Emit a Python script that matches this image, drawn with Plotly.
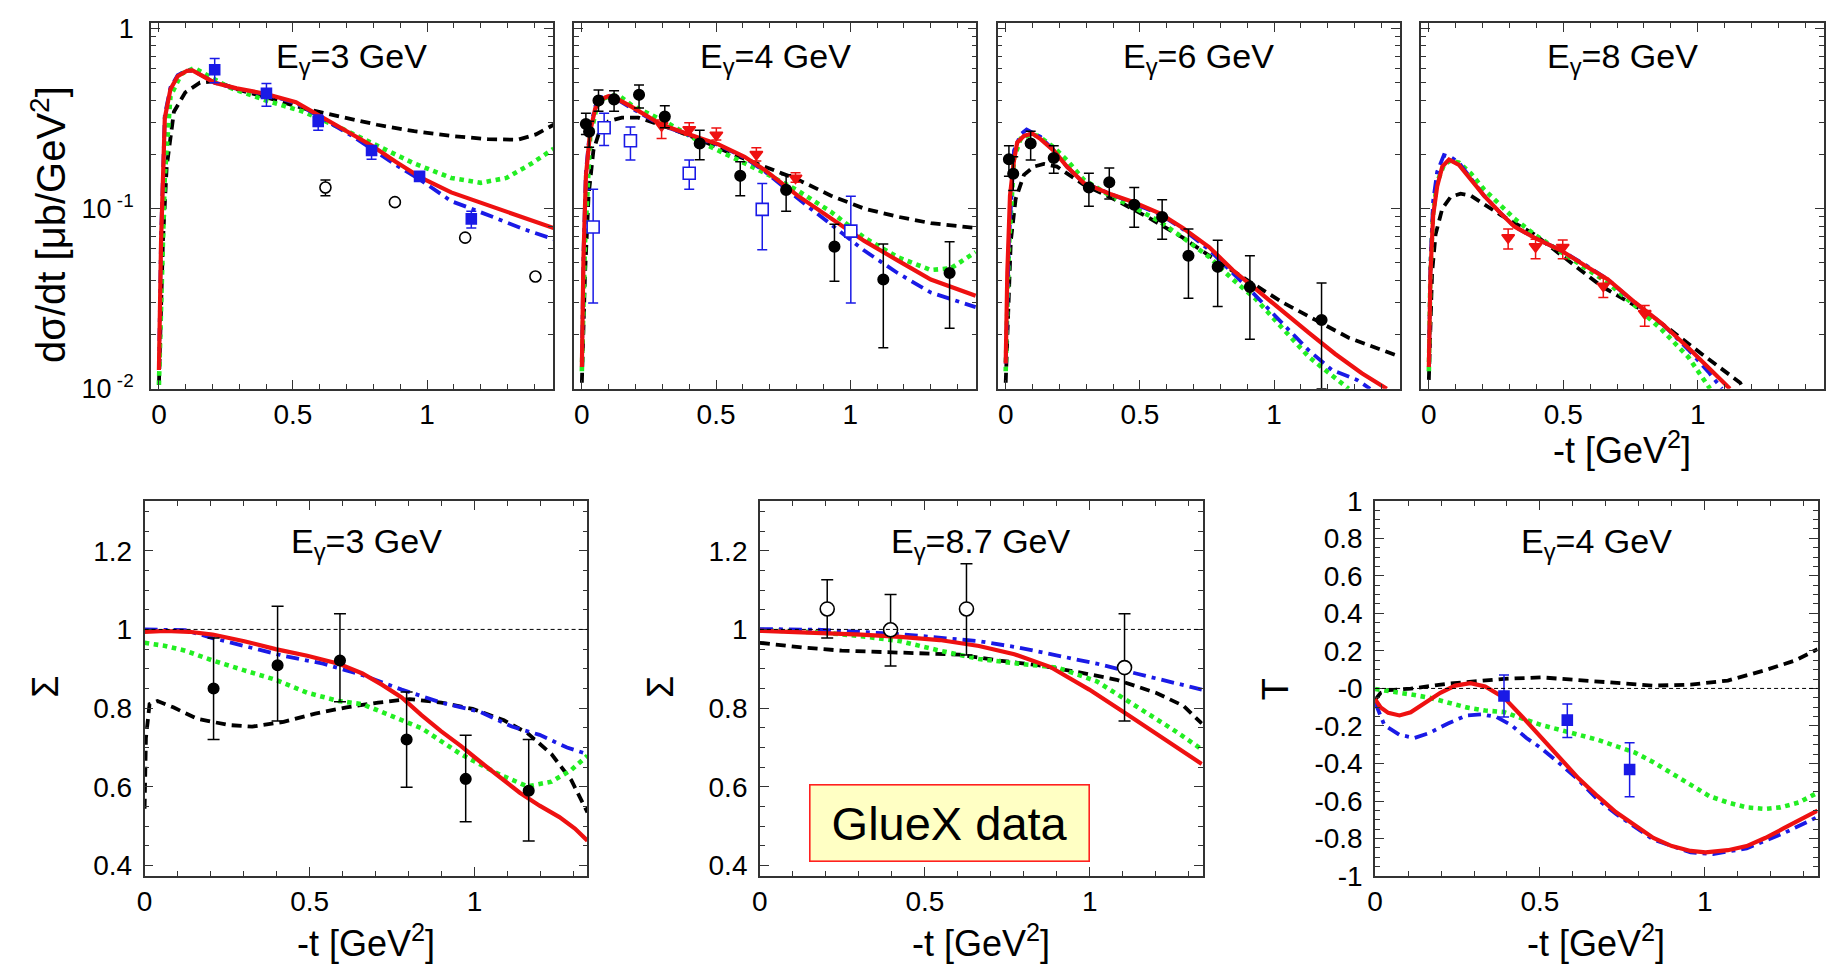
import plotly.graph_objects as go

W, H = 1828, 977
FONT = "Liberation Sans, Arial, Helvetica, sans-serif"
AX = "#333333"
RED, BLUE, GREEN, BLACK = "#ee1111", "#1a1ae6", "#22ee22", "#000000"

# ---------------- top row: dsigma/dt (log scale) ----------------
# E=3 GeV
p1_red_x = [0.0, 0.008, 0.022, 0.043, 0.07, 0.105, 0.125, 0.153, 0.208, 0.29, 0.40, 0.511, 0.594, 0.704, 0.793, 0.883, 0.979, 1.09, 1.227, 1.365, 1.472]
p1_red_y = [0.0127, 0.066, 0.318, 0.46, 0.543, 0.582, 0.585, 0.555, 0.50, 0.465, 0.433, 0.39, 0.331, 0.269, 0.224, 0.182, 0.148, 0.123, 0.104, 0.089, 0.078]
p1_blue_x = [0.0, 0.008, 0.022, 0.043, 0.07, 0.105, 0.13, 0.16, 0.208, 0.29, 0.40, 0.511, 0.594, 0.704, 0.793, 0.883, 0.979, 1.09, 1.165, 1.227, 1.365, 1.472]
p1_blue_y = [0.0127, 0.07, 0.33, 0.47, 0.55, 0.585, 0.58, 0.55, 0.50, 0.463, 0.43, 0.385, 0.325, 0.262, 0.215, 0.175, 0.143, 0.11, 0.1, 0.092, 0.0765, 0.0676]
p1_green_x = [0.0, 0.022, 0.043, 0.084, 0.132, 0.18, 0.263, 0.40, 0.539, 0.676, 0.814, 0.952, 1.09, 1.2, 1.296, 1.39, 1.472]
p1_green_y = [0.0105, 0.151, 0.42, 0.56, 0.603, 0.55, 0.47, 0.398, 0.345, 0.281, 0.223, 0.178, 0.148, 0.139, 0.148, 0.178, 0.215]
p1_black_x = [0.0, 0.015, 0.029, 0.056, 0.098, 0.153, 0.208, 0.29, 0.40, 0.539, 0.676, 0.814, 0.952, 1.09, 1.227, 1.337, 1.406, 1.472]
p1_black_y = [0.0105, 0.066, 0.171, 0.345, 0.441, 0.50, 0.51, 0.46, 0.415, 0.36, 0.324, 0.292, 0.269, 0.253, 0.243, 0.241, 0.258, 0.292]
p1_sq_x = [0.208, 0.401, 0.594, 0.793, 0.972, 1.165]
p1_sq_y = [0.59, 0.436, 0.305, 0.21, 0.151, 0.0877]
p1_sq_hi = [0.68, 0.494, 0.331, 0.223, 0.156, 0.0968]
p1_sq_lo = [0.50, 0.37, 0.272, 0.188, 0.146, 0.078]
p1_oc_x = [0.621, 0.880, 1.142, 1.404]
p1_oc_y = [0.131, 0.1086, 0.069, 0.042]
p1_oc_hi = [0.144, 0.1086, 0.069, 0.042]
p1_oc_lo = [0.118, 0.1086, 0.069, 0.042]

# E=4 GeV
p2_red_x = [0.0, 0.006, 0.015, 0.031, 0.05, 0.074, 0.099, 0.124, 0.186, 0.297, 0.433, 0.507, 0.606, 0.681, 0.804, 0.928, 1.052, 1.176, 1.30, 1.467]
p2_red_y = [0.0132, 0.0538, 0.151, 0.269, 0.36, 0.406, 0.421, 0.412, 0.367, 0.292, 0.248, 0.228, 0.194, 0.164, 0.118, 0.0883, 0.0662, 0.0516, 0.0404, 0.0328]
p2_blue_x = [0.0, 0.006, 0.015, 0.031, 0.05, 0.074, 0.099, 0.124, 0.186, 0.297, 0.433, 0.507, 0.606, 0.681, 0.804, 0.928, 1.052, 1.176, 1.30, 1.467]
p2_blue_y = [0.0132, 0.056, 0.16, 0.28, 0.37, 0.415, 0.425, 0.41, 0.36, 0.29, 0.245, 0.226, 0.192, 0.161, 0.114, 0.0813, 0.0585, 0.0439, 0.0342, 0.0284]
p2_green_x = [0.0, 0.012, 0.031, 0.056, 0.080, 0.111, 0.142, 0.186, 0.309, 0.433, 0.557, 0.681, 0.804, 0.928, 1.052, 1.176, 1.30, 1.374, 1.467]
p2_green_y = [0.0125, 0.066, 0.248, 0.37, 0.408, 0.424, 0.42, 0.374, 0.305, 0.238, 0.194, 0.158, 0.126, 0.096, 0.069, 0.0538, 0.0456, 0.0466, 0.0573]
p2_black_x = [0.0, 0.012, 0.025, 0.043, 0.062, 0.099, 0.149, 0.21, 0.309, 0.433, 0.557, 0.681, 0.804, 0.928, 1.052, 1.176, 1.30, 1.467]
p2_black_y = [0.0108, 0.0439, 0.118, 0.210, 0.258, 0.305, 0.320, 0.320, 0.286, 0.243, 0.202, 0.171, 0.145, 0.118, 0.100, 0.0902, 0.083, 0.078]
p2_ci_x = [0.015, 0.027, 0.062, 0.12, 0.213, 0.309, 0.439, 0.590, 0.761, 0.941, 1.123, 1.370]
p2_ci_y = [0.295, 0.267, 0.398, 0.404, 0.428, 0.324, 0.230, 0.152, 0.127, 0.0615, 0.0404, 0.0439]
p2_ci_hi = [0.338, 0.305, 0.456, 0.451, 0.485, 0.372, 0.272, 0.182, 0.154, 0.082, 0.0636, 0.0654]
p2_ci_lo = [0.258, 0.219, 0.347, 0.347, 0.362, 0.281, 0.187, 0.118, 0.0968, 0.0395, 0.0169, 0.0217]
p2_os_x = [0.042, 0.083, 0.181, 0.400, 0.672, 1.002]
p2_os_y = [0.079, 0.281, 0.238, 0.157, 0.099, 0.075]
p2_os_hi = [0.128, 0.338, 0.284, 0.186, 0.138, 0.117]
p2_os_lo = [0.0299, 0.224, 0.186, 0.128, 0.0591, 0.0299]
p2_tr_x = [0.297, 0.400, 0.501, 0.650, 0.796]
p2_tr_y = [0.289, 0.275, 0.256, 0.200, 0.148]
p2_tr_hi = [0.31, 0.30, 0.28, 0.218, 0.158]
p2_tr_lo = [0.245, 0.255, 0.24, 0.184, 0.14]

# E=6 GeV
p3_red_x = [0.0, 0.006, 0.016, 0.031, 0.043, 0.068, 0.099, 0.130, 0.179, 0.228, 0.29, 0.389, 0.475, 0.574, 0.660, 0.759, 0.846, 0.932, 1.031, 1.13, 1.228, 1.327, 1.42]
p3_red_y = [0.0138, 0.0439, 0.118, 0.186, 0.233, 0.253, 0.261, 0.243, 0.210, 0.171, 0.139, 0.1205, 0.1087, 0.094, 0.078, 0.061, 0.0456, 0.0356, 0.0267, 0.0204, 0.0156, 0.0122, 0.0100]
p3_blue_x = [0.0, 0.012, 0.031, 0.056, 0.078, 0.130, 0.179, 0.228, 0.29, 0.389, 0.475, 0.574, 0.660, 0.759, 0.846, 0.932, 1.031, 1.13, 1.216, 1.309, 1.358]
p3_blue_y = [0.0138, 0.066, 0.210, 0.258, 0.275, 0.25, 0.210, 0.171, 0.139, 0.12, 0.107, 0.093, 0.077, 0.059, 0.044, 0.0328, 0.0231, 0.0163, 0.0127, 0.0112, 0.0100]
p3_green_x = [0.0, 0.012, 0.031, 0.056, 0.093, 0.123, 0.179, 0.228, 0.29, 0.389, 0.475, 0.574, 0.660, 0.759, 0.846, 0.932, 1.031, 1.13, 1.278]
p3_green_y = [0.0125, 0.06, 0.19, 0.245, 0.258, 0.253, 0.219, 0.186, 0.145, 0.118, 0.102, 0.0848, 0.069, 0.0538, 0.0404, 0.0315, 0.0217, 0.015, 0.0100]
p3_black_x = [0.0, 0.019, 0.037, 0.068, 0.105, 0.142, 0.191, 0.29, 0.414, 0.537, 0.660, 0.784, 0.907, 1.031, 1.154, 1.278, 1.457]
p3_black_y = [0.0108, 0.066, 0.113, 0.154, 0.171, 0.177, 0.171, 0.136, 0.111, 0.0883, 0.069, 0.0516, 0.0395, 0.0302, 0.0241, 0.0192, 0.0153]
p3_ci_x = [0.012, 0.028, 0.093, 0.179, 0.310, 0.386, 0.479, 0.583, 0.681, 0.790, 0.910, 1.177]
p3_ci_y = [0.188, 0.156, 0.230, 0.191, 0.131, 0.140, 0.105, 0.0897, 0.0547, 0.0475, 0.0367, 0.0241]
p3_ci_hi = [0.223, 0.194, 0.269, 0.223, 0.157, 0.168, 0.131, 0.112, 0.0771, 0.0667, 0.0547, 0.0387]
p3_ci_lo = [0.151, 0.126, 0.186, 0.157, 0.103, 0.113, 0.0787, 0.0676, 0.0318, 0.0286, 0.0188, 0.0100]

# E=8 GeV
p4_red_x = [0.0, 0.006, 0.016, 0.031, 0.05, 0.075, 0.112, 0.156, 0.205, 0.268, 0.318, 0.392, 0.492, 0.579, 0.666, 0.766, 0.866, 0.965, 1.04, 1.12]
p4_red_y = [0.0132, 0.0439, 0.092, 0.133, 0.171, 0.187, 0.175, 0.145, 0.118, 0.094, 0.0796, 0.069, 0.0585, 0.0485, 0.0404, 0.0302, 0.0231, 0.0169, 0.0132, 0.0100]
p4_blue_x = [0.0, 0.006, 0.016, 0.031, 0.056, 0.081, 0.112, 0.156, 0.205, 0.268, 0.318, 0.392, 0.492, 0.579, 0.666, 0.766, 0.866, 0.965, 1.04, 1.09]
p4_blue_y = [0.0132, 0.05, 0.11, 0.16, 0.198, 0.193, 0.18, 0.148, 0.118, 0.094, 0.0796, 0.069, 0.0585, 0.049, 0.0404, 0.030, 0.0231, 0.0165, 0.0124, 0.0100]
p4_green_x = [0.0, 0.006, 0.016, 0.031, 0.056, 0.081, 0.112, 0.156, 0.205, 0.268, 0.318, 0.392, 0.492, 0.579, 0.666, 0.766, 0.866, 0.965, 1.046]
p4_green_y = [0.0125, 0.045, 0.095, 0.14, 0.175, 0.185, 0.18, 0.157, 0.128, 0.104, 0.088, 0.072, 0.0573, 0.0476, 0.0387, 0.029, 0.0213, 0.015, 0.0100]
p4_black_x = [0.0, 0.012, 0.025, 0.05, 0.081, 0.118, 0.156, 0.205, 0.268, 0.392, 0.517, 0.641, 0.766, 0.89, 1.015, 1.158, 1.17]
p4_black_y = [0.0112, 0.0439, 0.072, 0.1, 0.116, 0.121, 0.118, 0.106, 0.092, 0.072, 0.0516, 0.0372, 0.029, 0.0217, 0.0156, 0.0108, 0.0100]
p4_tr_x = [0.295, 0.397, 0.498, 0.649, 0.803]
p4_tr_y = [0.069, 0.0615, 0.061, 0.0372, 0.0262]
p4_tr_hi = [0.0771, 0.0676, 0.067, 0.0412, 0.029]
p4_tr_lo = [0.0597, 0.0527, 0.0527, 0.0321, 0.0222]

# ---------------- bottom row ----------------
# Sigma, E=3 GeV
b1_red_x = [0, 0.063, 0.135, 0.206, 0.302, 0.397, 0.493, 0.588, 0.66, 0.72, 0.779, 0.839, 0.899, 0.958, 1.018, 1.078, 1.137, 1.197, 1.257, 1.304, 1.342]
b1_red_y = [0.994, 0.996, 0.994, 0.987, 0.970, 0.950, 0.933, 0.913, 0.888, 0.859, 0.827, 0.782, 0.741, 0.704, 0.663, 0.622, 0.585, 0.552, 0.523, 0.494, 0.463]
b1_blue_x = [0, 0.123, 0.206, 0.302, 0.421, 0.541, 0.66, 0.779, 0.899, 1.018, 1.113, 1.197, 1.28, 1.342]
b1_blue_y = [1.0, 0.998, 0.978, 0.958, 0.933, 0.913, 0.884, 0.847, 0.814, 0.790, 0.753, 0.732, 0.70, 0.683]
b1_green_x = [0, 0.063, 0.123, 0.206, 0.302, 0.397, 0.493, 0.588, 0.66, 0.731, 0.839, 0.958, 1.078, 1.161, 1.233, 1.292, 1.342]
b1_green_y = [0.966, 0.958, 0.946, 0.921, 0.896, 0.872, 0.839, 0.818, 0.810, 0.786, 0.749, 0.683, 0.630, 0.601, 0.613, 0.642, 0.679]
b1_black_x = [0, 0.004, 0.015, 0.039, 0.087, 0.159, 0.254, 0.326, 0.421, 0.517, 0.612, 0.708, 0.803, 0.899, 0.994, 1.089, 1.161, 1.233, 1.293, 1.342]
b1_black_y = [0.544, 0.724, 0.810, 0.818, 0.802, 0.773, 0.757, 0.753, 0.765, 0.786, 0.802, 0.814, 0.823, 0.814, 0.798, 0.769, 0.736, 0.683, 0.617, 0.535]
b1_ci_x = [0.209, 0.403, 0.592, 0.794, 0.973, 1.164]
b1_ci_y = [0.850, 0.909, 0.921, 0.720, 0.620, 0.590]
b1_ci_hi = [0.978, 1.059, 1.04, 0.841, 0.731, 0.720]
b1_ci_lo = [0.72, 0.767, 0.816, 0.599, 0.511, 0.462]

# Sigma, E=8.7 GeV (GlueX)
b2_red_x = [0, 0.188, 0.307, 0.426, 0.545, 0.664, 0.771, 0.879, 0.998, 1.117, 1.236, 1.339]
b2_red_y = [0.9965, 0.991, 0.987, 0.981, 0.973, 0.958, 0.937, 0.905, 0.847, 0.782, 0.716, 0.658]
b2_blue_x = [0, 0.188, 0.426, 0.545, 0.664, 0.783, 0.902, 1.021, 1.140, 1.260, 1.339]
b2_blue_y = [1.001, 0.999, 0.988, 0.980, 0.970, 0.954, 0.933, 0.913, 0.888, 0.864, 0.847]
b2_green_x = [0, 0.188, 0.307, 0.426, 0.545, 0.664, 0.783, 0.902, 1.021, 1.140, 1.260, 1.339]
b2_green_y = [0.999, 0.992, 0.983, 0.970, 0.946, 0.925, 0.913, 0.903, 0.868, 0.806, 0.741, 0.695]
b2_black_x = [0, 0.129, 0.248, 0.367, 0.486, 0.605, 0.724, 0.843, 0.962, 1.081, 1.2, 1.283, 1.339]
b2_black_y = [0.966, 0.954, 0.946, 0.942, 0.940, 0.936, 0.921, 0.909, 0.892, 0.872, 0.839, 0.806, 0.761]
b2_oc_x = [0.204, 0.396, 0.626, 1.105]
b2_oc_y = [1.052, 0.999, 1.052, 0.903]
b2_oc_hi = [1.126, 1.089, 1.167, 1.04]
b2_oc_lo = [0.978, 0.907, 0.935, 0.767]

# T, E=4 GeV
b3_red_x = [0, 0.017, 0.040, 0.074, 0.108, 0.153, 0.198, 0.243, 0.289, 0.334, 0.391, 0.447, 0.504, 0.561, 0.617, 0.674, 0.730, 0.787, 0.844, 0.900, 0.957, 1.002, 1.070, 1.127, 1.183, 1.240, 1.342]
b3_red_y = [-0.058, -0.101, -0.130, -0.144, -0.127, -0.075, -0.023, 0.015, 0.028, 0.011, -0.049, -0.152, -0.264, -0.376, -0.479, -0.573, -0.659, -0.728, -0.797, -0.840, -0.866, -0.874, -0.862, -0.840, -0.797, -0.745, -0.651]
b3_blue_x = [0, 0.028, 0.074, 0.119, 0.164, 0.221, 0.277, 0.323, 0.368, 0.413, 0.459, 0.504, 0.561, 0.617, 0.674, 0.730, 0.844, 0.957, 1.025, 1.127, 1.240, 1.342]
b3_blue_y = [-0.075, -0.195, -0.247, -0.264, -0.238, -0.187, -0.144, -0.138, -0.152, -0.195, -0.264, -0.319, -0.402, -0.488, -0.591, -0.668, -0.806, -0.874, -0.883, -0.852, -0.771, -0.685]
b3_green_x = [0, 0.051, 0.108, 0.164, 0.221, 0.277, 0.334, 0.391, 0.447, 0.504, 0.561, 0.617, 0.674, 0.730, 0.787, 0.844, 0.900, 0.957, 1.014, 1.070, 1.127, 1.183, 1.229, 1.285, 1.342]
b3_green_y = [-0.003, -0.015, -0.032, -0.049, -0.075, -0.101, -0.118, -0.126, -0.161, -0.195, -0.221, -0.247, -0.273, -0.307, -0.341, -0.393, -0.453, -0.513, -0.574, -0.608, -0.634, -0.642, -0.634, -0.608, -0.556]
b3_black_x = [0, 0.017, 0.040, 0.108, 0.221, 0.277, 0.391, 0.504, 0.617, 0.730, 0.844, 0.957, 1.070, 1.183, 1.274, 1.342]
b3_black_y = [-0.061, -0.023, -0.009, -0.001, 0.025, 0.034, 0.051, 0.059, 0.046, 0.028, 0.015, 0.020, 0.042, 0.097, 0.149, 0.209]
b3_sq_x = [0.391, 0.583, 0.772]
b3_sq_y = [-0.040, -0.169, -0.432]
b3_sq_hi = [0.071, -0.083, -0.290]
b3_sq_lo = [-0.152, -0.261, -0.577]

# text
top_titles = ["E<sub>γ</sub>=3 GeV", "E<sub>γ</sub>=4 GeV", "E<sub>γ</sub>=6 GeV", "E<sub>γ</sub>=8 GeV"]
bot_titles = ["E<sub>γ</sub>=3 GeV", "E<sub>γ</sub>=8.7 GeV", "E<sub>γ</sub>=4 GeV"]
xtitle = "-t [GeV<sup>2</sup>]"
ytitle_top = "dσ/dt [μb/GeV<sup>2</sup>]"
log_tickvals = [0.01, 0.1, 1]
log_ticktext = ["10<sup> -2</sup>", "10<sup> -1</sup>", "1"]
t_tickvals = [-1, -0.8, -0.6, -0.4, -0.2, 0, 0.2, 0.4, 0.6, 0.8, 1]
t_ticktext = ["-1", "-0.8", "-0.6", "-0.4", "-0.2", "-0", "0.2", "0.4", "0.6", "0.8", "1"]

# ---------------- layout geometry (pixels) ----------------
top_x = [(143.5, 547.5), (568.3, 972.7), (994, 1398.3), (1419, 1824)]
top_y = (8.3, 386)
bot_x = [(137.2, 582), (755.2, 1200), (1373.1, 1817.5)]
bot_y = (501.7, 889.3)

def dx(a, b):
    return [a / W, b / W]

def dy(a, b):
    return [1 - b / H, 1 - a / H]

fig = go.Figure()

LINE_STYLES = {
    "black": dict(color=BLACK, width=3.8, dash="10px,6px"),
    "green": dict(color=GREEN, width=4.6, dash="dot"),
    "blue": dict(color=BLUE, width=3.8, dash="13px,6px,4px,6px"),
    "red": dict(color=RED, width=4.2),
}

def curve(x, y, style, n):
    fig.add_trace(go.Scatter(x=x, y=y, mode="lines", line=LINE_STYLES[style],
                             xaxis="x" + n, yaxis="y" + n, showlegend=False, hoverinfo="skip"))

def points(x, y, hi, lo, n, symbol, size, color, fill, ecolor, cap=5):
    fig.add_trace(go.Scatter(
        x=x, y=y, mode="markers", xaxis="x" + n, yaxis="y" + n, showlegend=False,
        marker=dict(symbol=symbol, size=size, color=fill, line=dict(color=color, width=1.6)),
        error_y=dict(type="data", symmetric=False,
                     array=[h - v for h, v in zip(hi, y)],
                     arrayminus=[v - l for l, v in zip(lo, y)],
                     color=ecolor, thickness=1.5, width=cap)))

for n, (bx, by), (gx, gy), (ux, uy), (rx, ry) in [
    ("1", (p1_black_x, p1_black_y), (p1_green_x, p1_green_y), (p1_blue_x, p1_blue_y), (p1_red_x, p1_red_y)),
    ("2", (p2_black_x, p2_black_y), (p2_green_x, p2_green_y), (p2_blue_x, p2_blue_y), (p2_red_x, p2_red_y)),
    ("3", (p3_black_x, p3_black_y), (p3_green_x, p3_green_y), (p3_blue_x, p3_blue_y), (p3_red_x, p3_red_y)),
    ("4", (p4_black_x, p4_black_y), (p4_green_x, p4_green_y), (p4_blue_x, p4_blue_y), (p4_red_x, p4_red_y)),
    ("5", (b1_black_x, b1_black_y), (b1_green_x, b1_green_y), (b1_blue_x, b1_blue_y), (b1_red_x, b1_red_y)),
    ("6", (b2_black_x, b2_black_y), (b2_green_x, b2_green_y), (b2_blue_x, b2_blue_y), (b2_red_x, b2_red_y)),
    ("7", (b3_black_x, b3_black_y), (b3_green_x, b3_green_y), (b3_blue_x, b3_blue_y), (b3_red_x, b3_red_y)),
]:
    curve(bx, by, "black", n)
    curve(gx, gy, "green", n)
    curve(ux, uy, "blue", n)
    curve(rx, ry, "red", n)

points(p1_oc_x, p1_oc_y, p1_oc_hi, p1_oc_lo, "1", "circle", 11, BLACK, "white", BLACK)
points(p1_sq_x, p1_sq_y, p1_sq_hi, p1_sq_lo, "1", "square", 10, BLUE, BLUE, BLUE)
points(p2_os_x, p2_os_y, p2_os_hi, p2_os_lo, "2", "square", 12, BLUE, "white", BLUE)
points(p2_tr_x, p2_tr_y, p2_tr_hi, p2_tr_lo, "2", "triangle-down", 11, RED, RED, RED)
points(p2_ci_x, p2_ci_y, p2_ci_hi, p2_ci_lo, "2", "circle", 10.5, BLACK, BLACK, BLACK)
points(p3_ci_x, p3_ci_y, p3_ci_hi, p3_ci_lo, "3", "circle", 10.5, BLACK, BLACK, BLACK)
points(p4_tr_x, p4_tr_y, p4_tr_hi, p4_tr_lo, "4", "triangle-down", 11, RED, RED, RED)
points(b1_ci_x, b1_ci_y, b1_ci_hi, b1_ci_lo, "5", "circle", 10.5, BLACK, BLACK, BLACK, cap=6)
points(b2_oc_x, b2_oc_y, b2_oc_hi, b2_oc_lo, "6", "circle", 14, BLACK, "white", BLACK, cap=6)
points(b3_sq_x, b3_sq_y, b3_sq_hi, b3_sq_lo, "7", "square", 10, BLUE, BLUE, BLUE, cap=5)

TICKFONT = dict(family=FONT, size=28, color="black")

def base_axis(**kw):
    d = dict(ticks="inside", ticklen=9, tickwidth=1.3, tickcolor=AX, showline=True, linewidth=1.6,
             linecolor=AX, mirror="ticks", showgrid=False, zeroline=False, tickfont=TICKFONT)
    d.update(kw)
    return d

MINOR = dict(ticks="inside", ticklen=5, tickwidth=1.1, tickcolor=AX, showgrid=False)

layout_axes = {}
for i, (a, b) in enumerate(top_x):
    n = str(i + 1)
    key = "" if n == "1" else n
    layout_axes["xaxis" + key] = base_axis(
        domain=dx(a, b), range=[-0.03, 1.47], anchor="y" + key if key else "y",
        tick0=0, dtick=0.5, ticklabelstandoff=0,
        minor=dict(tick0=0, dtick=0.1, **MINOR))
    layout_axes["yaxis" + key] = base_axis(
        domain=dy(*top_y), type="log", range=[-2, 0.03], anchor="x" + key if key else "x",
        tickmode="array", tickvals=log_tickvals, ticktext=log_ticktext, showticklabels=(i == 0),
        ticklabelstandoff=10, tickfont=dict(family=FONT, size=27, color="black"),
        minor=dict(tickmode="array", tickvals=[0.02, 0.03, 0.04, 0.05, 0.06, 0.07, 0.08, 0.09,
                                               0.2, 0.3, 0.4, 0.5, 0.6, 0.7, 0.8, 0.9], **MINOR))
for i, (a, b) in enumerate(bot_x):
    n = str(i + 5)
    layout_axes["xaxis" + n] = base_axis(
        domain=dx(a, b), range=[0, 1.342], anchor="y" + n, tick0=0, dtick=0.5, ticklabelstandoff=0,
        minor=dict(tick0=0, dtick=0.1, **MINOR))
    if i < 2:
        layout_axes["yaxis" + n] = base_axis(
            domain=dy(*bot_y), range=[0.373, 1.327], anchor="x" + n, tick0=0, dtick=0.2,
            ticklabelstandoff=5, minor=dict(tick0=0, dtick=0.05, **MINOR))
    else:
        layout_axes["yaxis" + n] = base_axis(
            domain=dy(*bot_y), range=[-1, 1], anchor="x" + n, tickmode="array",
            tickvals=t_tickvals, ticktext=t_ticktext, ticklabelstandoff=5,
            minor=dict(tickmode="array", tickvals=[round(-1 + 0.05 * k, 2) for k in range(41)], **MINOR))

annotations = []

def ann(text, x, y, size, angle=0, **kw):
    d = dict(text=text, x=x / W, y=1 - y / H, xref="paper", yref="paper", showarrow=False,
             xanchor="center", yanchor="middle", textangle=angle,
             font=dict(family=FONT, size=size, color="black"))
    d.update(kw)
    annotations.append(d)

for (a, b), t in zip(top_x, top_titles):
    ann(t, (a + b) / 2, 45, 34)
for (a, b), t in zip(bot_x, bot_titles):
    ann(t, (a + b) / 2, 546, 34)

ann(ytitle_top, 41, 216, 40, angle=-90)
ann("Σ", 38, 694, 36, angle=-90)
ann("Σ", 656, 694, 36, angle=-90)
ann("T", 1273, 696, 36, angle=-90)
ann(xtitle, (top_x[3][0] + top_x[3][1]) / 2, 447, 36)
for a, b in bot_x:
    ann(xtitle, (a + b) / 2, 956, 36)

ann("GlueX data", 946, 834, 47, bgcolor="#ffffc4", bordercolor="#ff2020", borderwidth=1.6,
    width=276, height=73, borderpad=1)

shapes = [
    dict(type="line", xref="x5 domain", x0=0, x1=1, yref="y5", y0=1, y1=1,
         line=dict(color="black", width=1, dash="4px,3px")),
    dict(type="line", xref="x6 domain", x0=0, x1=1, yref="y6", y0=1, y1=1,
         line=dict(color="black", width=1, dash="4px,3px")),
    dict(type="line", xref="x7 domain", x0=0, x1=1, yref="y7", y0=0, y1=0,
         line=dict(color="black", width=1, dash="4px,3px")),
]

fig.update_layout(
    width=W, height=H, autosize=False,
    margin=dict(l=0, r=0, t=0, b=0),
    paper_bgcolor="white", plot_bgcolor="white",
    showlegend=False,
    font=dict(family=FONT, color="black"),
    annotations=annotations, shapes=shapes,
    **layout_axes,
)

fig.write_html("out.html", config={"displayModeBar": False},
               post_script="document.body.style.margin='0';document.body.style.overflow='hidden';")
